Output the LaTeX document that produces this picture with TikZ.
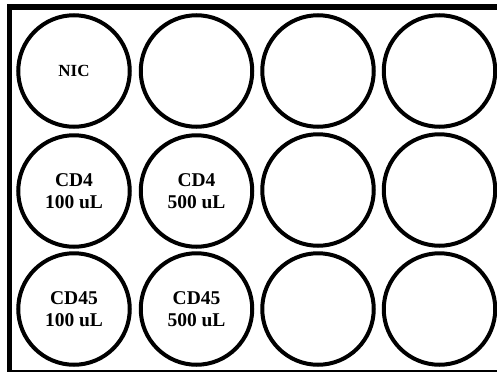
\documentclass[tikz,border=0pt]{standalone}
\usepackage{fontspec}
\setmainfont{Liberation Serif}
\begin{document}
\begin{tikzpicture}[x=1pt,y=-1pt,
  well/.style={circle,draw=black,line width=4pt,minimum size=111.5pt,inner sep=0pt,align=center,
    font=\bfseries\fontsize{19.5}{22}\selectfont},
  smalltxt/.style={font=\bfseries\fontsize{17}{20}\selectfont}]
\useasboundingbox (0,0) rectangle (497,372);
% frame
\draw[line width=5pt] (9.5,371) -- (9.5,4.5);
\draw[line width=5.5pt] (7,7) -- (497,7);
\draw[line width=1.6pt] (7,371) -- (497,371);
% wells
\node[well,smalltxt] (w11) at (74,71) {NIC};
\node[well] (w12) at (196.5,71) {};
\node[well] (w13) at (318,71) {};
\node[well] (w14) at (439.5,71) {};
\node[well] (w21) at (74,191) {CD4\\100 uL};
\node[well] (w22) at (196.5,191) {CD4\\500 uL};
\node[well] (w23) at (318,190) {};
\node[well] (w24) at (439.5,190) {};
\node[well] (w31) at (74,309) {CD45\\100 uL};
\node[well] (w32) at (196.5,309) {CD45\\500 uL};
\node[well] (w33) at (318,309) {};
\node[well] (w34) at (439.5,309) {};
\end{tikzpicture}
\end{document}
